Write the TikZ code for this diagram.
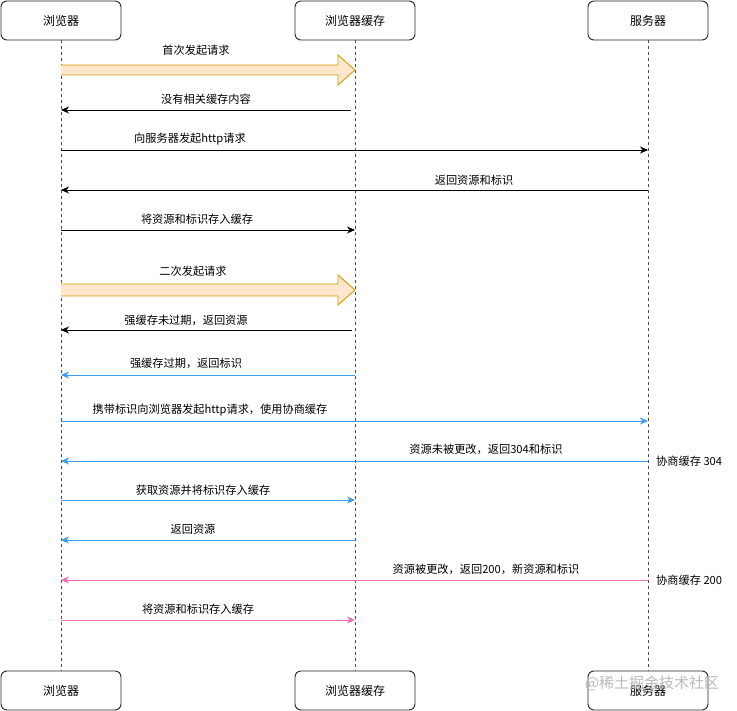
\documentclass[tikz,border=0pt]{standalone}
\usepackage{fontspec}
\setmainfont{Noto Sans CJK SC}
\usetikzlibrary{arrows.meta}
\definecolor{blueline}{HTML}{3D9BF0}
\definecolor{pinkline}{HTML}{F56CB6}
\definecolor{blockfill}{HTML}{FFE6CC}
\definecolor{blockdraw}{HTML}{D79B00}
\begin{document}
\begin{tikzpicture}[x=1pt,y=-1pt,
  actor/.style={draw=black!85,line width=0.9pt,rounded corners=6pt,minimum width=120pt,minimum height=39pt,font=\fontsize{12}{14}\selectfont,inner sep=0pt},
  life/.style={draw=black!70,dashed,dash pattern=on 3pt off 3pt,line width=0.7pt},
  msg/.style={-{Stealth[length=8pt,width=7pt,inset=2.5pt]},line width=0.9pt},
  lbl/.style={font=\fontsize{11.2}{13}\selectfont,inner sep=1pt},
  blockarrow/.style={fill=blockfill,draw=blockdraw,line width=0.9pt,line join=miter}]
\useasboundingbox (0,0) rectangle (737,711);
% actors
\node[actor] (bt) at (61,20.5) {浏览器};
\node[actor] (ct) at (355,20.5) {浏览器缓存};
\node[actor] (st) at (648,20.5) {服务器};
\node[actor] (bb) at (61,690.5) {浏览器};
\node[actor] (cb) at (355,690.5) {浏览器缓存};
\node[actor] (sb) at (648,690.5) {服务器};
% lifelines
\draw[life] (bt.south) -- (bb.north);
\draw[life] (ct.south) -- (cb.north);
\draw[life] (st.south) -- (sb.north);
% row coordinates
\foreach \i/\y in {1/70,2/110,3/150,4/190,5/230,6/290,7/330,8/375,9/421,10/461,11/500,12/540,13/580,14/620}{
  \coordinate (B\i) at (61,\y);
  \coordinate (C\i) at (355,\y);
  \coordinate (S\i) at (648,\y);
}
% block arrows
\draw[blockarrow] ([yshift=-5pt]B1) -- ([xshift=-17pt,yshift=-5pt]C1) -- ([xshift=-17pt,yshift=-15pt]C1) -- (C1) -- ([xshift=-17pt,yshift=15pt]C1) -- ([xshift=-17pt,yshift=5pt]C1) -- ([yshift=5pt]B1);
\node[lbl] (l1) at (196,50) {首次发起请求};
\draw[blockarrow] ([yshift=-6pt]B6) -- ([xshift=-17pt,yshift=-6pt]C6) -- ([xshift=-17pt,yshift=-15pt]C6) -- (C6) -- ([xshift=-17pt,yshift=15pt]C6) -- ([xshift=-17pt,yshift=6pt]C6) -- ([yshift=6pt]B6);
\node[lbl] (l6) at (193,271) {二次发起请求};
% messages
\draw[msg] ([xshift=-4pt]C2) -- (B2);
\node[lbl] (l2) at (206,99) {没有相关缓存内容};
\draw[msg] (B3) -- (S3);
\node[lbl] (l3) at (190,139) {向服务器发起http请求};
\draw[msg] (S4) -- (B4);
\node[lbl] (l4) at (474,180) {返回资源和标识};
\draw[msg] (B5) -- (C5);
\node[lbl] (l5) at (197,219) {将资源和标识存入缓存};
\draw[msg] ([xshift=-3pt]C7) -- (B7);
\node[lbl] (l7) at (186,320) {强缓存未过期，返回资源};
\draw[msg,blueline] (C8) -- (B8);
\node[lbl] (l8) at (186,363) {强缓存过期，返回标识};
\draw[msg,blueline] (B9) -- (S9);
\node[lbl] (l9) at (210,410) {携带标识向浏览器发起http请求，使用协商缓存};
\draw[msg,blueline] (S10) -- (B10);
\node[lbl] (l10) at (486,449) {资源未被更改，返回304和标识};
\node[lbl,anchor=west] (n304) at (655,461) {协商缓存 304};
\draw[msg,blueline] (B11) -- (C11);
\node[lbl] (l11) at (203,490) {获取资源并将标识存入缓存};
\draw[msg,blueline] (C12) -- (B12);
\node[lbl] (l12) at (193,529) {返回资源};
\draw[msg,pinkline] (S13) -- (B13);
\node[lbl] (l13) at (486,569) {资源被更改，返回200，新资源和标识};
\node[lbl,anchor=west] (n200) at (655,580) {协商缓存 200};
\draw[msg,pinkline] (B14) -- (C14);
\node[lbl] (l14) at (198,609) {将资源和标识存入缓存};
% watermark
\node[font=\fontsize{15}{17}\selectfont,text=black!30,opacity=0.9,inner sep=0pt] (wm) at (652,683) {@稀土掘金技术社区};
\end{tikzpicture}
\end{document}
